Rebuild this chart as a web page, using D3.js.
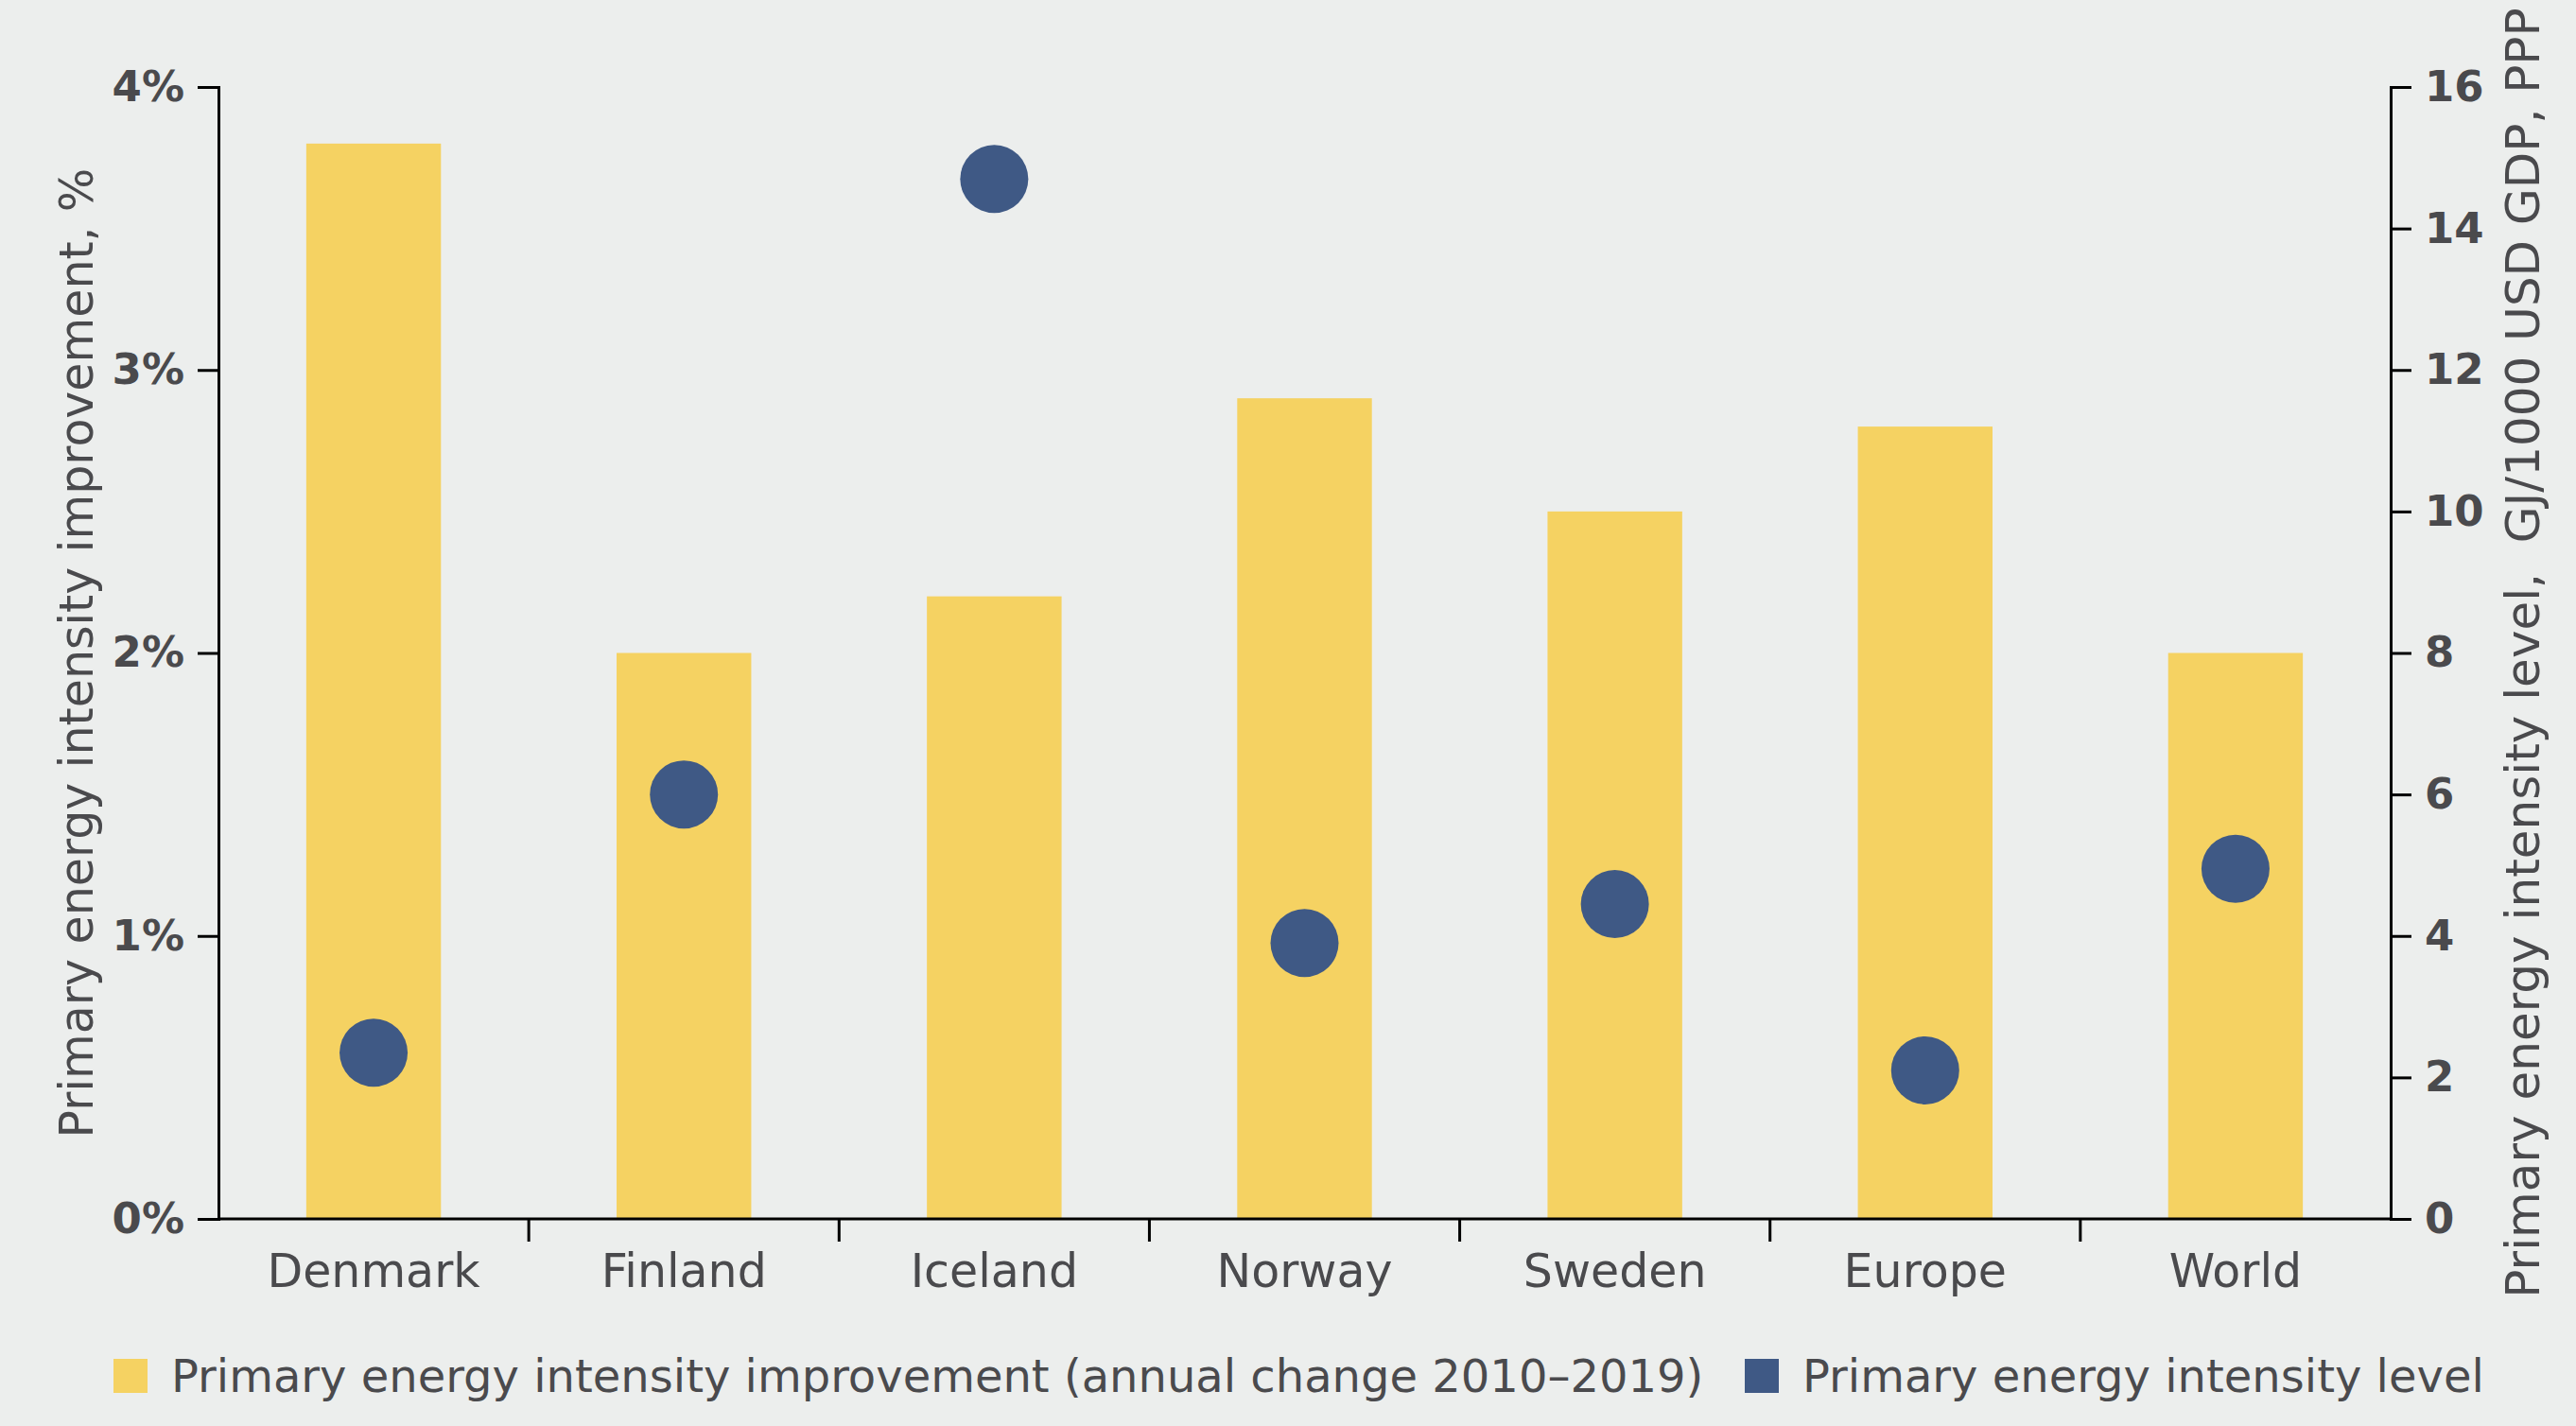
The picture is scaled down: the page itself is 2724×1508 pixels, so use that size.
<!DOCTYPE html>
<html>
<head>
<meta charset="utf-8">
<script src="https://cdn.jsdelivr.net/npm/d3@7"></script>
<style>
  body { margin: 0; background: #eceeed; }
  svg { display: block; }
  text { font-family: "DejaVu Sans", sans-serif; fill: #4a4a4d; }
</style>
</head>
<body>
<svg id="svg" width="2724" height="1508"></svg>
<script>
var categories = ['Denmark', 'Finland', 'Iceland', 'Norway', 'Sweden', 'Europe', 'World'];
var improvement = [3.8, 2.0, 2.2, 2.9, 2.5, 2.8, 2.0];   // % per year, left axis
var level = [2.35, 6.0, 14.7, 3.9, 4.45, 2.1, 4.95];       // GJ/1000 USD, right axis
var leftTicks = [0, 1, 2, 3, 4];
var rightTicks = [0, 2, 4, 6, 8, 10, 12, 14, 16];
var legendLabels = ['Primary energy intensity improvement (annual change 2010\u20132019)',
                    'Primary energy intensity level'];

var svg = d3.select('#svg');
var margin = { top: 92, right: 196, bottom: 219, left: 231 };
var width = 2724, height = 1508;
var innerW = width - margin.left - margin.right;
var innerH = height - margin.top - margin.bottom;

var barColor = '#f5d262';
var dotColor = '#3f5985';

var x = d3.scaleBand().domain(categories).range([0, innerW]).paddingInner(0.566).paddingOuter(0.283);
var yL = d3.scaleLinear().domain([0, 4]).range([innerH, 0]);
var yR = d3.scaleLinear().domain([0, 16]).range([innerH, 0]);

var g = svg.append('g').attr('transform', 'translate(' + margin.left + ',' + margin.top + ')');

// bars
g.selectAll('rect.bar')
  .data(categories)
  .enter()
  .append('rect')
  .attr('class', 'bar')
  .attr('x', function(d) { return x(d); })
  .attr('width', x.bandwidth())
  .attr('y', function(d, i) { return yL(improvement[i]); })
  .attr('height', function(d, i) { return innerH - yL(improvement[i]); })
  .style('fill', barColor);

// dots
g.selectAll('circle.dot')
  .data(categories)
  .enter()
  .append('circle')
  .attr('class', 'dot')
  .attr('cx', function(d) { return x(d) + x.bandwidth() / 2; })
  .attr('cy', function(d, i) { return yR(level[i]); })
  .attr('r', 36)
  .style('fill', dotColor);

// left axis
var leftAxis = g.append('g')
  .call(d3.axisLeft(yL).tickValues(leftTicks).tickFormat(function(d) { return d + '%'; }).tickSize(22).tickPadding(14));
leftAxis.selectAll('text').style('font-size', '45px').style('font-weight', '700');

// right axis
var rightAxis = g.append('g')
  .attr('transform', 'translate(' + innerW + ',0)')
  .call(d3.axisRight(yR).tickValues(rightTicks).tickSize(22).tickPadding(14));
rightAxis.selectAll('text').style('font-size', '45px').style('font-weight', '700');

// bottom axis: ticks only between categories
var step = x.step();
var bottom = g.append('g').attr('transform', 'translate(0,' + innerH + ')');
bottom.append('line').attr('x1', 0).attr('x2', innerW).attr('y1', 0).attr('y2', 0)
  .style('stroke', '#000').style('stroke-width', 3);
bottom.selectAll('line.tick')
  .data(categories.slice(1))
  .enter()
  .append('line')
  .attr('class', 'tick')
  .attr('x1', function(d) { return x(d) - (step - x.bandwidth()) / 2; })
  .attr('x2', function(d) { return x(d) - (step - x.bandwidth()) / 2; })
  .attr('y1', 0).attr('y2', 24)
  .style('stroke', '#000').style('stroke-width', 3);
bottom.selectAll('text.cat')
  .data(categories)
  .enter()
  .append('text')
  .attr('class', 'cat')
  .attr('x', function(d) { return x(d) + x.bandwidth() / 2; })
  .attr('y', 72)
  .attr('text-anchor', 'middle')
  .style('font-size', '49px')
  .text(function(d) { return d; });

svg.selectAll('.domain, .tick line').style('stroke', '#000').style('stroke-width', 3);

// axis titles
svg.append('text')
  .attr('transform', 'translate(98,' + (margin.top + innerH / 2) + ') rotate(-90)')
  .attr('text-anchor', 'middle')
  .style('font-size', '49px')
  .text('Primary energy intensity improvement, %');

svg.append('text')
  .attr('transform', 'translate(2685,' + (margin.top + innerH / 2) + ') rotate(-90)')
  .attr('text-anchor', 'middle')
  .style('font-size', '50px')
  .style('white-space', 'pre')
  .text('Primary energy intensity level,  GJ/1000 USD GDP, PPP');

// legend
var legend = svg.append('g').attr('transform', 'translate(120,1437)');
legend.append('rect').attr('x', 0).attr('y', 0).attr('width', 36).attr('height', 36).style('fill', barColor);
legend.append('text').attr('x', 61).attr('y', 35).style('font-size', '48px').text(legendLabels[0]);
legend.append('rect').attr('x', 1725).attr('y', 0).attr('width', 36).attr('height', 36).style('fill', dotColor);
legend.append('text').attr('x', 1786).attr('y', 35).style('font-size', '48px').text(legendLabels[1]);
</script>
</body>
</html>
